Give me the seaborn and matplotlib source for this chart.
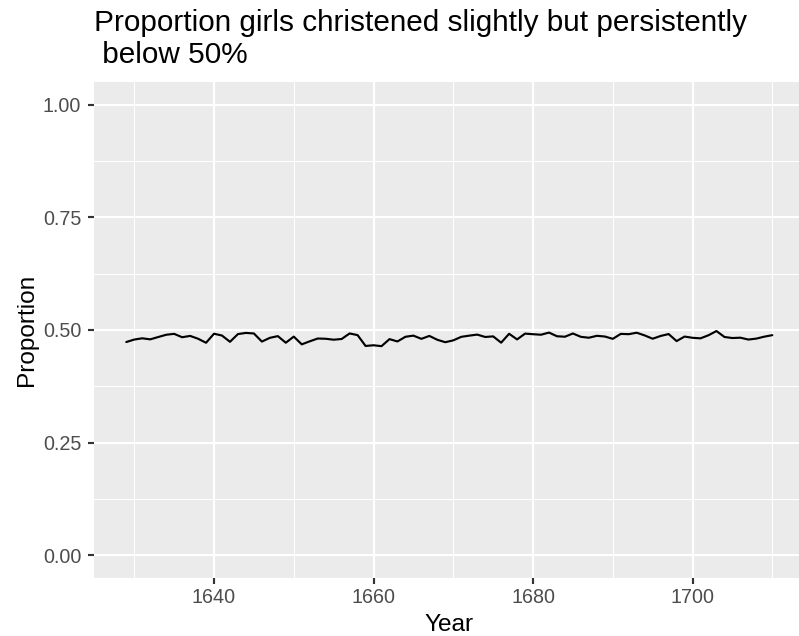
import numpy as np
import pandas as pd
import matplotlib
matplotlib.use("Agg")
import matplotlib.pyplot as plt
import matplotlib.ticker as mticker
import seaborn as sns

# --- Data: London christenings (Arbuthnot), 1629-1710 ---
years = list(range(1629, 1711))
boys = [5218, 4858, 4422, 4994, 5158, 5035, 5106, 4917, 4703, 5359,
        5366, 5518, 5470, 5460, 4793, 4107, 4047, 3768, 3796, 3363,
        3079, 2890, 3231, 3220, 3196, 3441, 3655, 3668, 3396, 3157,
        3209, 3724, 4748, 5216, 5411, 6041, 5114, 4678, 5616, 6073,
        6506, 6278, 6449, 6443, 6073, 6113, 6058, 6552, 6423, 6568,
        6247, 6548, 6822, 6909, 7577, 7575, 7484, 7575, 7737, 7487,
        7604, 7909, 7662, 7602, 7676, 6985, 7263, 7632, 8062, 8426,
        7911, 7578, 8102, 8031, 7765, 6113, 8366, 7952, 8379, 8239,
        7840, 7640]
girls = [4683, 4457, 4102, 4590, 4839, 4820, 4928, 4605, 4457, 4952,
         4784, 5332, 5200, 4910, 4617, 3997, 3919, 3395, 3536, 3181,
         2746, 2722, 2840, 2908, 2959, 3179, 3349, 3382, 3289, 3013,
         2781, 3247, 4107, 4803, 4881, 5681, 4858, 4319, 5322, 5560,
         5829, 5719, 6061, 6120, 5822, 5738, 5717, 5847, 6203, 6033,
         6041, 6299, 6533, 6744, 7158, 7127, 7246, 7119, 7214, 7101,
         7167, 7302, 7392, 7316, 7483, 6647, 6713, 7229, 7767, 7626,
         7452, 7061, 7514, 7656, 7683, 5738, 7779, 7417, 7687, 7623,
         7380, 7288]

df = pd.DataFrame({"year": years, "boys": boys, "girls": girls})
df["prop"] = df["girls"] / (df["boys"] + df["girls"])

sns.set_theme(style="darkgrid")
plt.rcParams["font.family"] = ["Liberation Sans", "DejaVu Sans"]

W, H, DPI = 799, 636, 144
fig = plt.figure(figsize=(W / DPI, H / DPI), dpi=DPI)
left, top, bottom, right = 94, 82, 577.7, 804.6
ax = fig.add_axes([left / W, 1 - bottom / H, (right - left) / W, (bottom - top) / H])
ax.set_facecolor("#EBEBEB")

sns.lineplot(data=df, x="year", y="prop", ax=ax, color="black", linewidth=1.07)

ax.set_xlim(1629 - 0.05 * 81, 1710 + 0.05 * 81)
ax.set_ylim(-0.05, 1.05)
ax.xaxis.set_major_locator(mticker.FixedLocator([1640, 1660, 1680, 1700]))
ax.xaxis.set_minor_locator(mticker.FixedLocator([1630, 1650, 1670, 1690, 1710]))
ax.yaxis.set_major_locator(mticker.FixedLocator([0, 0.25, 0.5, 0.75, 1.0]))
ax.yaxis.set_minor_locator(mticker.FixedLocator([0.125, 0.375, 0.625, 0.875]))
ax.yaxis.set_major_formatter(mticker.FormatStrFormatter("%.2f"))
ax.xaxis.set_major_formatter(mticker.FormatStrFormatter("%d"))

ax.grid(which="major", color="white", linewidth=1.07)
ax.grid(which="minor", color="white", linewidth=0.53)
ax.set_axisbelow(True)
for s in ax.spines.values():
    s.set_visible(False)

ax.tick_params(which="major", length=2.8, width=1.07, color="#333333",
               labelcolor="#4D4D4D", labelsize=9.9, bottom=True, left=True)
ax.tick_params(axis="x", which="major", pad=2.5)
ax.tick_params(axis="y", which="major", pad=3.6)
ax.tick_params(which="minor", length=0)

ax.set_xlabel("Year", fontsize=12.2, color="black", labelpad=3.5)
ax.set_ylabel("Proportion", fontsize=12.2, color="black", labelpad=2.5)

fig.text(left / W, 1 - 62.7 / H,
         "Proportion girls christened slightly but persistently\n below 50%",
         fontsize=14.85, color="black", ha="left", va="baseline", linespacing=1.19)

fig.savefig("out.png", dpi=DPI)
